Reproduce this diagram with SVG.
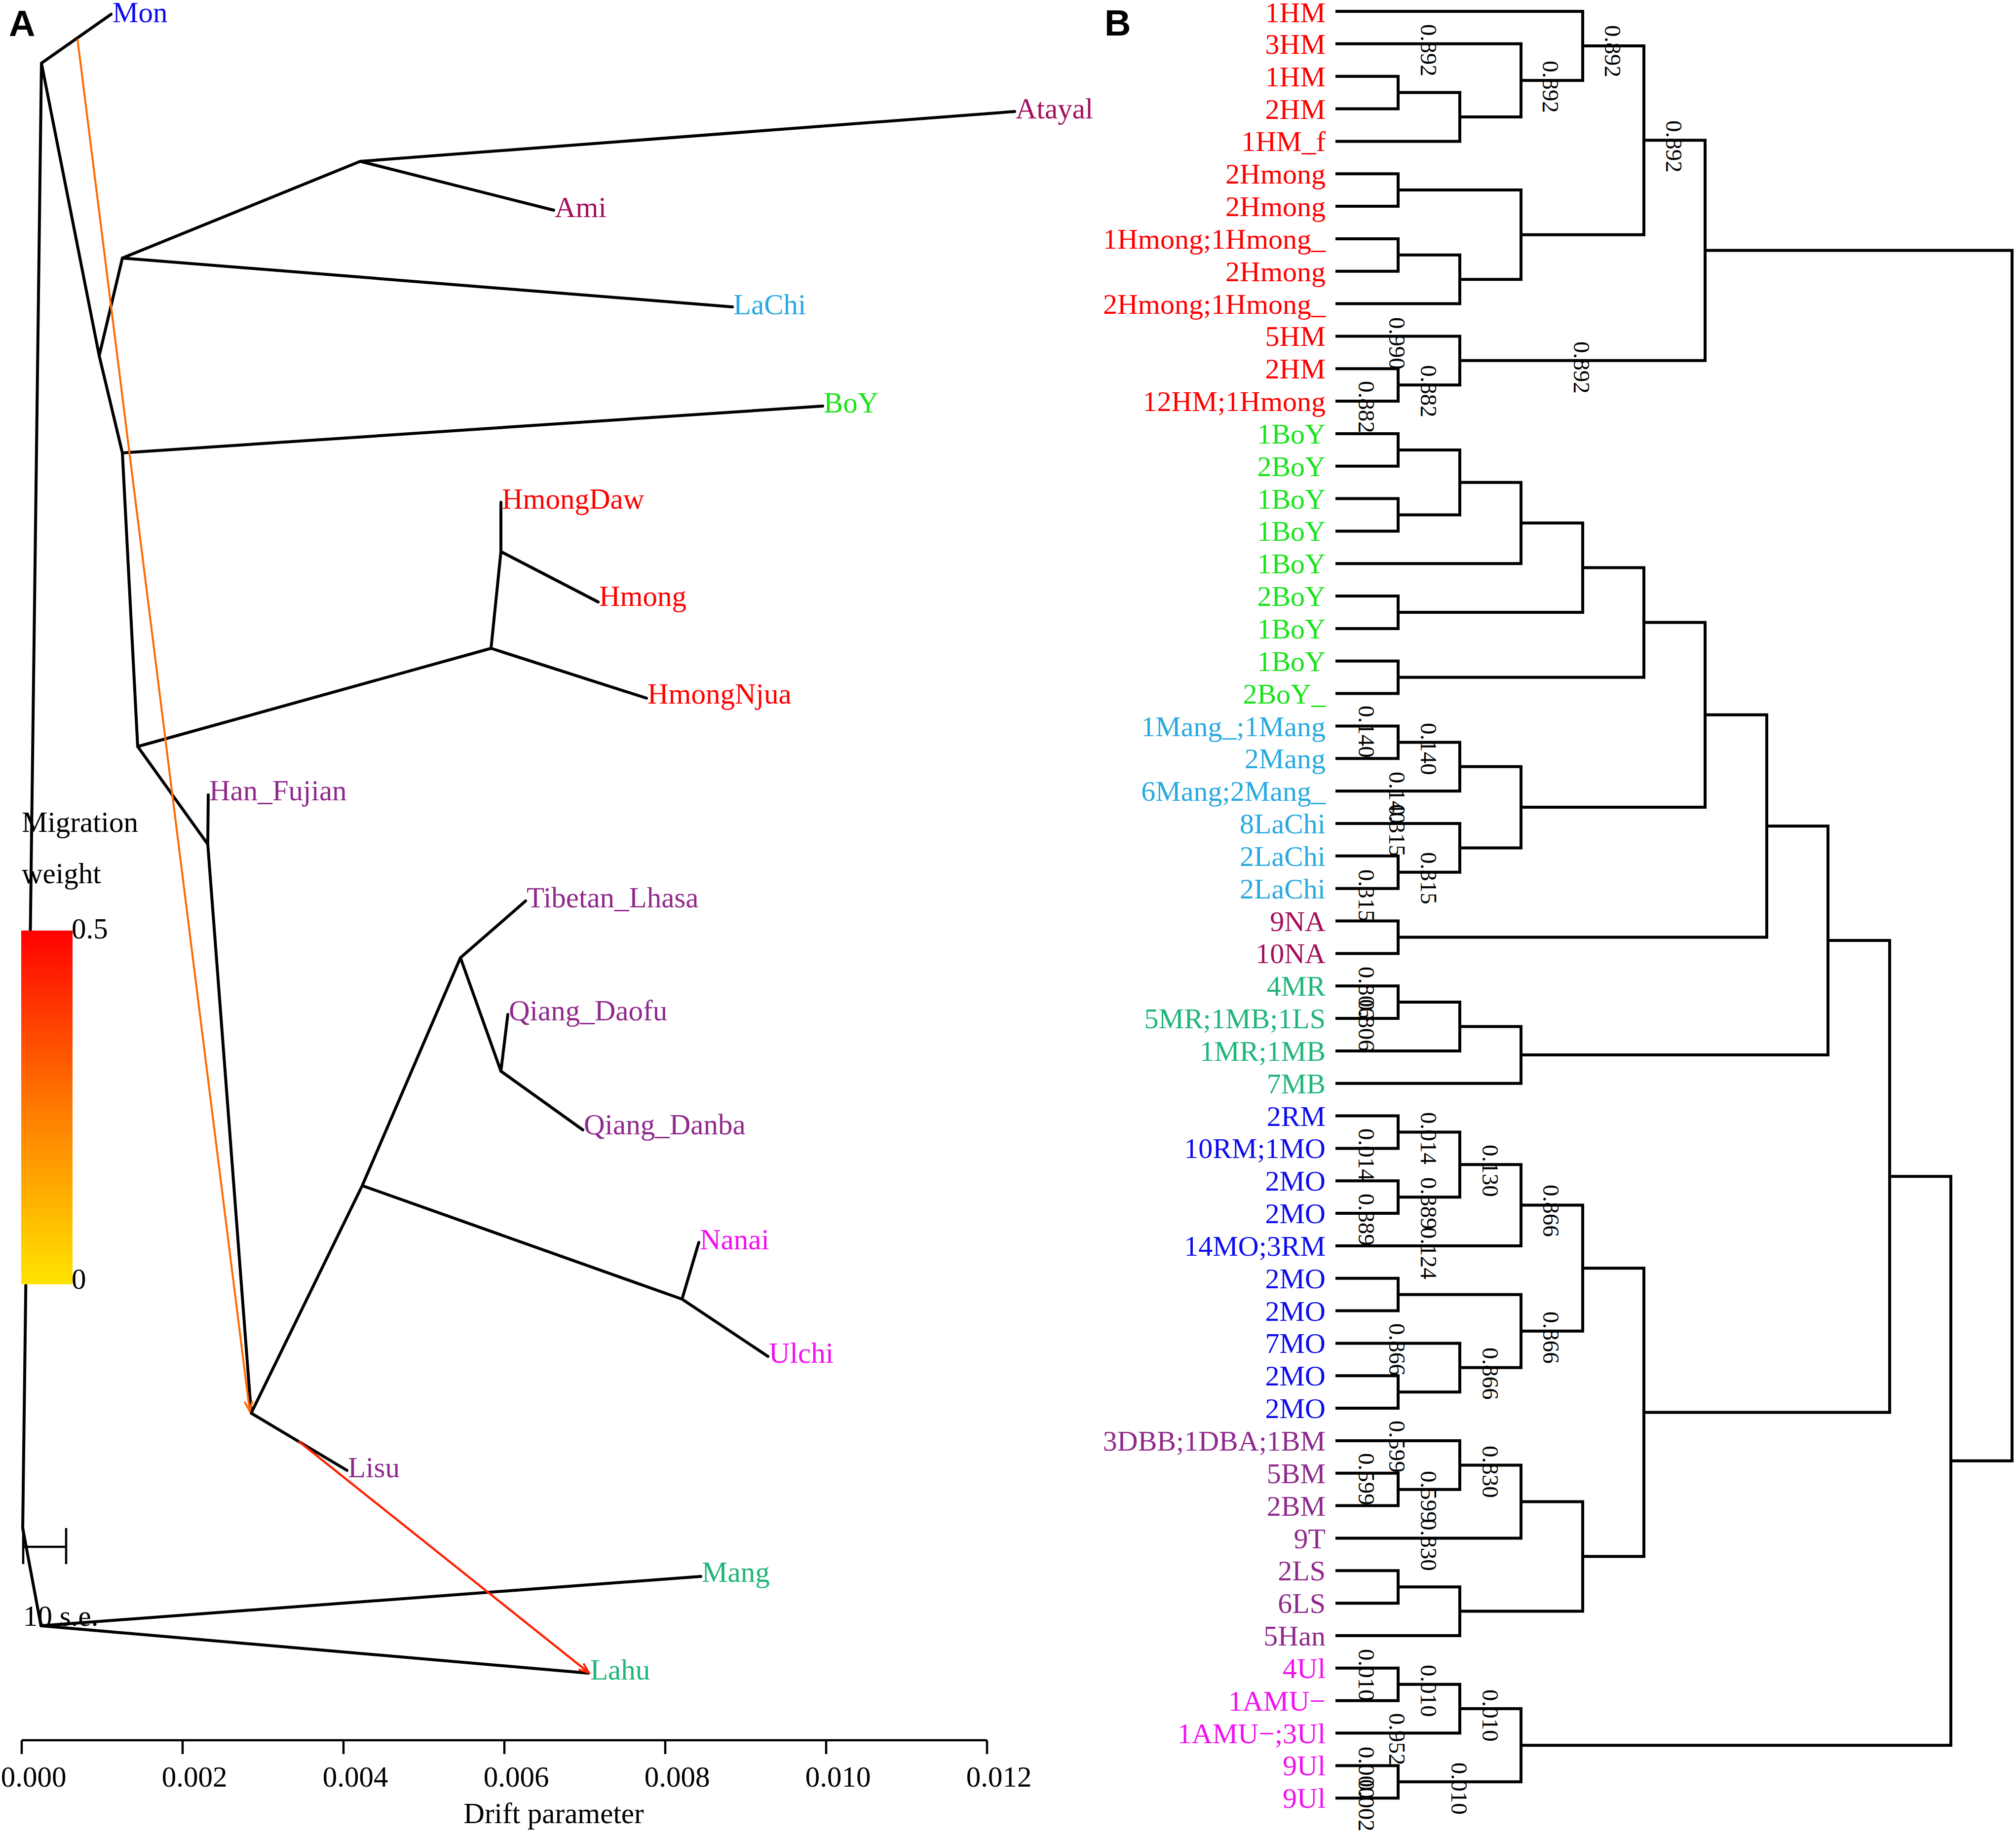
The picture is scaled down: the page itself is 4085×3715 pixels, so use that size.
<svg xmlns="http://www.w3.org/2000/svg" width="4085" height="3715" viewBox="0 0 4085 3715">
<style>
.t{font-family:"Liberation Serif","Times New Roman",serif;font-size:59px}
.lf{font-family:"Liberation Serif","Times New Roman",serif;font-size:58px;text-anchor:end}
.bs{font-family:"Liberation Serif","Times New Roman",serif;font-size:47px;fill:#000}
.pl{font-family:"Liberation Sans",Arial,sans-serif;font-weight:bold;font-size:74px}
.e{stroke:#000;stroke-width:6;fill:none;stroke-linecap:round;stroke-linejoin:round}
.d{stroke:#000;stroke-width:6;fill:none;stroke-linecap:square;stroke-linejoin:miter}
.ax{stroke:#000;stroke-width:4.5;fill:none}
.red{fill:#FF0000}.grn{fill:#19E319}.sky{fill:#29A9E0}.crm{fill:#A30F5C}
.tea{fill:#20B57A}.blu{fill:#0C0CEE}.pur{fill:#8F2A8C}.mag{fill:#F010F0}
</style>
<defs>
<linearGradient id="heat" x1="0" y1="0" x2="0" y2="1">
<stop offset="0" stop-color="#FF0000"/>
<stop offset="0.5" stop-color="#FF7A00"/>
<stop offset="1" stop-color="#FFE400"/>
</linearGradient>
<marker id="arO" markerUnits="userSpaceOnUse" markerWidth="40" markerHeight="40" refX="22" refY="10" orient="auto">
<path d="M2,2 L22,10 L2,18" fill="none" stroke="#FF6A00" stroke-width="4"/>
</marker>
<marker id="arR" markerUnits="userSpaceOnUse" markerWidth="40" markerHeight="40" refX="22" refY="10" orient="auto">
<path d="M2,2 L22,10 L2,18" fill="none" stroke="#FF2200" stroke-width="4"/>
</marker>
</defs>
<rect width="4085" height="3715" fill="#fff"/>

<!-- Panel A -->
<text class="pl" x="18" y="73">A</text>
<g id="connectors-A">
<path class="e" d="M46,3097 L84,128 M84,128 L225,29 M84,128 L201,721 L248,918 M201,721 L248,523 M248,523 L730,327 M730,327 L2056,226 M730,327 L1122,426 M248,523 L1484,622 M248,918 L1667,823 M248,918 L279,1513 M279,1513 L995,1314 M995,1314 L1015,1118 M1015,1118 L1015,1018 M1015,1118 L1212,1220 M995,1314 L1310,1415 M279,1513 L421,1711 M421,1711 L422,1611 M421,1711 L509,2864 M509,2864 L734,2403 L933,1941 M933,1941 L1065,1826 M933,1941 L1015,2171 M1015,2171 L1029,2056 M1015,2171 L1181,2290 M734,2403 L1382,2633 M1382,2633 L1416,2518 M1382,2633 L1556,2749 M509,2864 L703,2980 M46,3097 L83,3295 M83,3295 L1420,3195 M83,3295 L1192,3391"/>
<path d="M157,79 L506,2860" stroke="#FF6A00" stroke-width="4" fill="none" marker-end="url(#arO)"/>
<path d="M605,2921 L1193,3390" stroke="#FF2200" stroke-width="4.5" fill="none" marker-end="url(#arR)"/>
</g>
<g id="legend">
<rect x="43" y="1886" width="104" height="717" fill="url(#heat)"/>
<text class="t" x="44" y="1686">Migration</text>
<text class="t" x="44" y="1790">weight</text>
<text class="t" x="145" y="1902">0.5</text>
<text class="t" x="145" y="2612">0</text>
</g>
<g id="scalebar">
<path class="ax" d="M47,3097 V3170 M47,3135 H134 M134,3097 V3170"/>
<text class="t" x="47" y="3295">10 s.e.</text>
</g>
<g id="nodes-A">
<g id="a-mon"><text class="t blu" x="228" y="45">Mon</text></g>
<g id="a-atayal"><text class="t crm" x="2058" y="240">Atayal</text></g>
<g id="a-ami"><text class="t crm" x="1124" y="440">Ami</text></g>
<g id="a-lachi"><text class="t sky" x="1486" y="637">LaChi</text></g>
<g id="a-boy"><text class="t grn" x="1669" y="836">BoY</text></g>
<g id="a-hmongdaw"><text class="t red" x="1017" y="1031">HmongDaw</text></g>
<g id="a-hmong"><text class="t red" x="1214" y="1228">Hmong</text></g>
<g id="a-hmongnjua"><text class="t red" x="1312" y="1426">HmongNjua</text></g>
<g id="a-hanfujian"><text class="t pur" x="424" y="1622">Han_Fujian</text></g>
<g id="a-tibetan"><text class="t pur" x="1067" y="1839">Tibetan_Lhasa</text></g>
<g id="a-daofu"><text class="t pur" x="1031" y="2068">Qiang_Daofu</text></g>
<g id="a-danba"><text class="t pur" x="1183" y="2299">Qiang_Danba</text></g>
<g id="a-nanai"><text class="t mag" x="1418" y="2532">Nanai</text></g>
<g id="a-ulchi"><text class="t mag" x="1558" y="2762">Ulchi</text></g>
<g id="a-lisu"><text class="t pur" x="705" y="2994">Lisu</text></g>
<g id="a-mang"><text class="t tea" x="1422" y="3206">Mang</text></g>
<g id="a-lahu"><text class="t tea" x="1196" y="3404">Lahu</text></g>
</g>
<g id="axis">
<path class="ax" d="M44,3527 H2000 M44,3527 V3555 M370,3527 V3555 M696,3527 V3555 M1022,3527 V3555 M1348,3527 V3555 M1674,3527 V3555 M2000,3527 V3555"/>
<g class="t" text-anchor="middle">
<text x="68" y="3621">0.000</text>
<text x="394" y="3621">0.002</text>
<text x="720" y="3621">0.004</text>
<text x="1046" y="3621">0.006</text>
<text x="1372" y="3621">0.008</text>
<text x="1698" y="3621">0.010</text>
<text x="2024" y="3621">0.012</text>
<text x="1122" y="3695">Drift parameter</text>
</g>
</g>

<!-- Panel B -->
<text class="pl" x="2238" y="72">B</text>
<g id="connectors-B">
<path class="d" d="M2709 154.7H2833V220.5H2709 M2833 187.6H2958V286.4H2709 M2709 88.8H3082V237H2958 M2709 23H3207V162.9H3082 M2709 352.2H2833V418H2709 M2709 483.9H2833V549.7H2709 M2833 516.8H2958V615.6H2709 M2833 385.1H3082V566.2H2958 M3207 93H3331V475.7H3082 M2709 747.2H2833V813.1H2709 M2709 681.4H2958V780.2H2833 M3331 284.3H3455V730.8H2958 M2709 878.9H2833V944.8H2709 M2709 1010.6H2833V1076.4H2709 M2833 911.9H2958V1043.5H2833 M2958 977.7H3082V1142.3H2709 M2709 1208.1H2833V1274H2709 M3082 1060H3207V1241.1H2833 M2709 1339.8H2833V1405.6H2709 M3207 1150.5H3331V1372.7H2833 M2709 1471.5H2833V1537.3H2709 M2833 1504.4H2958V1603.2H2709 M2709 1734.8H2833V1800.7H2709 M2709 1669H2958V1767.8H2833 M2958 1553.8H3082V1718.4H2958 M3331 1261.6H3455V1636.1H3082 M2709 1866.5H2833V1932.4H2709 M3455 1448.8H3580V1899.5H2833 M2709 1998.2H2833V2064H2709 M2833 2031.1H2958V2129.9H2709 M2958 2080.5H3082V2195.7H2709 M3580 1674.2H3704V2138.1H3082 M2709 2261.6H2833V2327.4H2709 M2709 2393.2H2833V2459.1H2709 M2833 2294.5H2958V2426.2H2833 M2958 2360.3H3082V2524.9H2709 M2709 2590.8H2833V2656.6H2709 M2709 2788.3H2833V2854.1H2709 M2709 2722.4H2958V2821.2H2833 M2833 2623.7H3082V2771.8H2958 M3082 2442.6H3207V2697.7H3082 M2709 2985.8H2833V3051.6H2709 M2709 2920H2958V3018.7H2833 M2958 2969.4H3082V3117.5H2709 M2709 3183.3H2833V3249.2H2709 M2833 3216.2H2958V3315H2709 M3082 3043.4H3207V3265.6H2958 M3207 2570.2H3331V3154.5H3207 M3704 1906.1H3829V2862.4H3331 M2709 3380.8H2833V3446.7H2709 M2833 3413.8H2958V3512.5H2709 M2709 3578.4H2833V3644.2H2709 M2958 3463.1H3082V3611.3H2833 M3829 2384.2H3953V3537.2H3082 M3455 507.6H4077V2960.7H3953"/>
</g>
<g id="nodes-B">
<g id="b-hm" class="red">
<text class="lf" x="2686" y="45">1HM</text>
<text class="lf" x="2686" y="108.8">3HM</text>
<text class="lf" x="2686" y="174.7">1HM</text>
<text class="lf" x="2686" y="240.5">2HM</text>
<text class="lf" x="2686" y="306.4">1HM_f</text>
<text class="lf" x="2686" y="372.2">2Hmong</text>
<text class="lf" x="2686" y="438">2Hmong</text>
<text class="lf" x="2686" y="503.9">1Hmong;1Hmong_</text>
<text class="lf" x="2686" y="569.7">2Hmong</text>
<text class="lf" x="2686" y="635.6">2Hmong;1Hmong_</text>
<text class="lf" x="2686" y="701.4">5HM</text>
<text class="lf" x="2686" y="767.2">2HM</text>
<text class="lf" x="2686" y="833.1">12HM;1Hmong</text>
</g>
<g id="b-boy" class="grn">
<text class="lf" x="2686" y="898.9">1BoY</text>
<text class="lf" x="2686" y="964.8">2BoY</text>
<text class="lf" x="2686" y="1030.6">1BoY</text>
<text class="lf" x="2686" y="1096.4">1BoY</text>
<text class="lf" x="2686" y="1162.3">1BoY</text>
<text class="lf" x="2686" y="1228.1">2BoY</text>
<text class="lf" x="2686" y="1294">1BoY</text>
<text class="lf" x="2686" y="1359.8">1BoY</text>
<text class="lf" x="2686" y="1425.6">2BoY_</text>
</g>
<g id="b-mang" class="sky">
<text class="lf" x="2686" y="1491.5">1Mang_;1Mang</text>
<text class="lf" x="2686" y="1557.3">2Mang</text>
<text class="lf" x="2686" y="1623.2">6Mang;2Mang_</text>
<text class="lf" x="2686" y="1689">8LaChi</text>
<text class="lf" x="2686" y="1754.8">2LaChi</text>
<text class="lf" x="2686" y="1820.7">2LaChi</text>
</g>
<g id="b-na" class="crm">
<text class="lf" x="2686" y="1886.5">9NA</text>
<text class="lf" x="2686" y="1952.4">10NA</text>
</g>
<g id="b-mr" class="tea">
<text class="lf" x="2686" y="2018.2">4MR</text>
<text class="lf" x="2686" y="2084">5MR;1MB;1LS</text>
<text class="lf" x="2686" y="2149.9">1MR;1MB</text>
<text class="lf" x="2686" y="2215.7">7MB</text>
</g>
<g id="b-mo" class="blu">
<text class="lf" x="2686" y="2281.6">2RM</text>
<text class="lf" x="2686" y="2347.4">10RM;1MO</text>
<text class="lf" x="2686" y="2413.2">2MO</text>
<text class="lf" x="2686" y="2479.1">2MO</text>
<text class="lf" x="2686" y="2544.9">14MO;3RM</text>
<text class="lf" x="2686" y="2610.8">2MO</text>
<text class="lf" x="2686" y="2676.6">2MO</text>
<text class="lf" x="2686" y="2742.4">7MO</text>
<text class="lf" x="2686" y="2808.3">2MO</text>
<text class="lf" x="2686" y="2874.1">2MO</text>
</g>
<g id="b-bm" class="pur">
<text class="lf" x="2686" y="2940">3DBB;1DBA;1BM</text>
<text class="lf" x="2686" y="3005.8">5BM</text>
<text class="lf" x="2686" y="3071.6">2BM</text>
<text class="lf" x="2686" y="3137.5">9T</text>
<text class="lf" x="2686" y="3203.3">2LS</text>
<text class="lf" x="2686" y="3269.2">6LS</text>
<text class="lf" x="2686" y="3335">5Han</text>
</g>
<g id="b-ul" class="mag">
<text class="lf" x="2686" y="3400.8">4Ul</text>
<text class="lf" x="2686" y="3466.7">1AMU−</text>
<text class="lf" x="2686" y="3532.5">1AMU−;3Ul</text>
<text class="lf" x="2686" y="3598.4">9Ul</text>
<text class="lf" x="2686" y="3664.2">9Ul</text>
</g>
</g>
<g id="support-values" class="bs">
<text transform="translate(2879,49) rotate(90)">0.892</text>
<text transform="translate(3126,123) rotate(90)">0.892</text>
<text transform="translate(3252,51) rotate(90)">0.892</text>
<text transform="translate(3376,244) rotate(90)">0.892</text>
<text transform="translate(2815,643) rotate(90)">0.990</text>
<text transform="translate(2879,740) rotate(90)">0.882</text>
<text transform="translate(2753,772) rotate(90)">0.882</text>
<text transform="translate(3189,692) rotate(90)">0.892</text>
<text transform="translate(2753,1430) rotate(90)">0.140</text>
<text transform="translate(2879,1465) rotate(90)">0.140</text>
<text transform="translate(2815,1564) rotate(90)">0.140</text>
<text transform="translate(2815,1630) rotate(90)">0.315</text>
<text transform="translate(2879,1727) rotate(90)">0.315</text>
<text transform="translate(2753,1762) rotate(90)">0.315</text>
<text transform="translate(2753,1959) rotate(90)">0.806</text>
<text transform="translate(2753,2025) rotate(90)">0.806</text>
<text transform="translate(2879,2254) rotate(90)">0.014</text>
<text transform="translate(2753,2287) rotate(90)">0.014</text>
<text transform="translate(3004,2320) rotate(90)">0.130</text>
<text transform="translate(2879,2386) rotate(90)">0.389</text>
<text transform="translate(2879,2487) rotate(90)">0.124</text>
<text transform="translate(3127,2401) rotate(90)">0.866</text>
<text transform="translate(2753,2419) rotate(90)">0.389</text>
<text transform="translate(3127,2658) rotate(90)">0.866</text>
<text transform="translate(2815,2682) rotate(90)">0.866</text>
<text transform="translate(3004,2731) rotate(90)">0.866</text>
<text transform="translate(2815,2879) rotate(90)">0.599</text>
<text transform="translate(3004,2930) rotate(90)">0.830</text>
<text transform="translate(2753,2945) rotate(90)">0.599</text>
<text transform="translate(2879,2981) rotate(90)">0.599</text>
<text transform="translate(2879,3078) rotate(90)">0.830</text>
<text transform="translate(2753,3342) rotate(90)">0.010</text>
<text transform="translate(2879,3374) rotate(90)">0.010</text>
<text transform="translate(3004,3424) rotate(90)">0.010</text>
<text transform="translate(2815,3472) rotate(90)">0.952</text>
<text transform="translate(2753,3540) rotate(90)">0.000</text>
<text transform="translate(2753,3606) rotate(90)">0.002</text>
<text transform="translate(2941,3572) rotate(90)">0.010</text>
</g>
</svg>
